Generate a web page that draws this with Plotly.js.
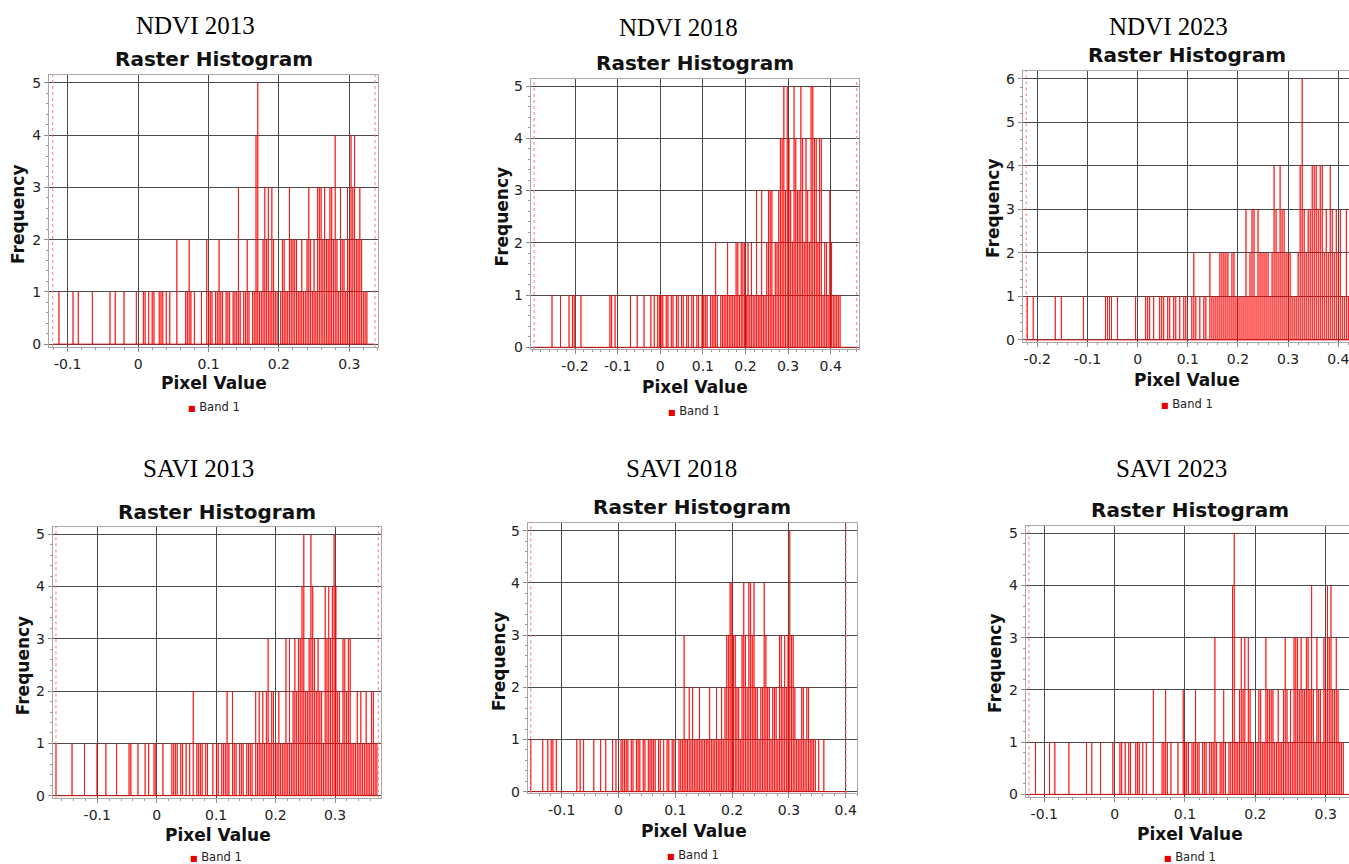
<!DOCTYPE html>
<html><head><meta charset="utf-8">
<script src="https://cdn.plot.ly/plotly-3.0.1.min.js"></script>
<style>html,body{margin:0;padding:0;background:#fff}#chart{width:1349px;height:864px}</style>
</head><body><div id="chart"></div>
<script>
// ---------- DATA ----------
const panelTitles = ['NDVI 2013', 'NDVI 2018', 'NDVI 2023', 'SAVI 2013', 'SAVI 2018', 'SAVI 2023'];
const chartTitle = 'Raster Histogram';
const xTitle = 'Pixel Value';
const yTitle = 'Frequency';
const seriesName = 'Band 1';

// NDVI 2013
const ndvi2013BinStart = -0.1225, ndvi2013BinWidth = 0.0025;
const ndvi2013MinMax = [-0.1213, 0.3365];
const ndvi2013Counts = [
 0,0,0,0,1,0,0,0,0,0, 0,0,1,0,0,1,0,0,0,0, 0,0,0,1,0,0,0,0,0,0, 0,0,0,1,0,0,1,0,0,0,
 0,1,0,0,0,0,0,0,1,0, 0,0,1,1,0,1,0,1,1,0, 0,1,1,1,0,1,0,1,0,0, 0,2,0,0,0,0,1,1,2,1,
 0,1,0,0,0,1,0,0,2,1, 1,1,0,1,1,2,1,1,0,1, 1,1,0,1,1,1,3,1,0,1, 1,2,1,0,1,1,4,5,1,1,
 2,3,2,3,1,3,2,1,1,0, 1,2,2,1,1,3,2,2,2,2, 1,1,2,1,1,2,3,2,1,2, 1,3,3,3,2,3,2,2,3,3,
 2,4,2,1,3,2,2,1,3,2, 4,3,4,2,2,3,2,1,1,1, 0,0,0,0];
const ndvi2013XTicks = [-0.1, 0, 0.1, 0.2, 0.3];
const ndvi2013XLabels = ['-0.1', '0', '0.1', '0.2', '0.3'];

// NDVI 2018
const ndvi2018BinStart = -0.298, ndvi2018BinWidth = 0.004;
const ndvi2018MinMax = [-0.296, 0.461];
const ndvi2018Counts = [
 0,0,0,0,0,0,0,0,0,0, 0,1,0,0,0,0,1,0,0,0, 0,1,0,1,1,0,0,0,1,0, 0,0,0,0,0,0,0,0,0,0,
 0,0,0,0,0,1,1,0,1,0, 0,0,0,0,0,0,0,1,0,0, 0,1,0,0,0,1,0,0,0,1, 0,1,0,1,1,1,1,0,1,1,
 0,1,1,0,1,1,0,1,1,0, 1,1,0,1,1,0,1,1,0,1, 1,1,1,0,1,1,1,2,1,0, 1,1,1,1,2,1,1,1,1,2,
 2,1,2,2,2,1,2,1,2,1, 1,3,1,1,3,1,1,2,3,3, 3,1,2,2,3,4,4,5,3,5, 4,3,2,5,4,3,3,5,4,2,
 4,3,2,5,5,4,4,2,4,4, 1,2,2,1,3,2,1,1,1,1, 1,0,0,0,0,0,0,0,0,0];
const ndvi2018XTicks = [-0.2, -0.1, 0, 0.1, 0.2, 0.3, 0.4];
const ndvi2018XLabels = ['-0.2', '-0.1', '0', '0.1', '0.2', '0.3', '0.4'];

// NDVI 2023
const ndvi2023BinStart = -0.224, ndvi2023BinWidth = 0.004;
const ndvi2023MinMax = [-0.222, 0.43];
const ndvi2023Counts = [
 0,1,0,0,1,0,0,0,0,0, 0,0,0,0,0,1,0,0,1,0, 0,0,0,0,0,0,0,0,0,1, 0,0,0,0,0,0,0,0,0,0,
 1,1,1,1,0,0,1,0,0,0, 0,0,0,0,0,1,0,0,0,0, 1,1,1,0,1,0,0,1,1,1, 0,1,1,0,1,1,0,1,0,1,
 1,0,0,1,2,1,0,1,0,1, 1,0,2,1,1,1,1,2,2,2, 2,2,1,2,2,1,1,1,1,1, 3,1,2,3,3,1,3,2,2,2,
 2,2,1,2,4,3,2,4,3,3, 2,2,2,1,1,1,2,4,6,3, 2,3,3,4,4,4,3,4,4,2, 3,2,4,3,2,3,2,3,1,1,
 3,1];
const ndvi2023XTicks = [-0.2, -0.1, 0, 0.1, 0.2, 0.3, 0.4];
const ndvi2023XLabels = ['-0.2', '-0.1', '0', '0.1', '0.2', '0.3', '0.4'];

// SAVI 2013
const savi2013BinStart = -0.1695, savi2013BinWidth = 0.003;
const savi2013MinMax = [-0.1695, 0.3729];
const savi2013Counts = [
 1,0,0,0,0,0,0,0,0,1, 0,0,0,0,0,0,1,0,0,0, 0,0,0,1,0,0,0,0,1,0, 0,0,0,0,1,0,0,0,0,0,
 0,1,1,0,0,0,1,0,0,0, 1,0,1,0,0,1,1,0,0,0, 1,0,0,0,0,1,1,1,1,0, 1,1,0,1,0,1,0,2,0,1,
 1,1,1,0,1,1,0,0,1,0, 1,1,0,1,1,1,2,1,0,2, 1,1,0,1,1,1,0,1,1,1, 1,0,2,1,2,1,2,1,2,3,
 1,2,2,1,1,2,1,1,1,3, 1,3,1,2,3,2,3,3,4,5, 2,2,3,5,4,3,2,3,2,2, 1,4,3,4,3,4,5,4,2,2,
 1,3,3,2,3,3,1,1,1,2, 1,2,1,1,2,1,1,2,2,1, 1];
const savi2013XTicks = [-0.1, 0, 0.1, 0.2, 0.3];
const savi2013XLabels = ['-0.1', '0', '0.1', '0.2', '0.3'];

// SAVI 2018
const savi2018BinStart = -0.1545, savi2018BinWidth = 0.003;
const savi2018MinMax = [-0.1545, 0.4006];
const savi2018Counts = [
 1,0,0,0,0,0,0,1,0,0, 1,0,1,1,0,1,0,0,0,0, 0,0,0,0,0,0,0,1,0,1, 0,1,0,0,0,0,0,1,0,0,
 0,1,0,0,1,0,0,0,1,0, 1,0,0,1,1,1,1,1,0,1, 1,0,1,1,1,0,1,1,0,1, 1,1,1,1,0,1,1,0,1,0,
 1,1,0,1,1,0,0,1,1,1, 3,1,1,2,1,2,1,1,1,2, 1,1,1,1,1,2,1,1,1,2, 1,1,2,1,2,3,3,4,4,3,
 3,2,2,1,3,4,3,2,4,4, 3,4,2,2,1,2,2,4,3,2, 2,1,2,2,2,1,3,3,2,3, 2,3,5,3,3,2,1,1,1,2,
 2,1,2,2,1,1,1,1,0,1, 0,0,1,0,0,0,0,0,0,0, 0,0,0,0,0,0];
const savi2018XTicks = [-0.1, 0, 0.1, 0.2, 0.3, 0.4];
const savi2018XLabels = ['-0.1', '0', '0.1', '0.2', '0.3', '0.4'];

// SAVI 2023
const savi2023BinStart = -0.1225, savi2023BinWidth = 0.0025;
const savi2023MinMax = [-0.1218, 0.3365];
const savi2023Counts = [
 0,0,0,0,1,0,0,0,0,0, 0,0,1,0,0,1,0,0,0,0, 0,0,0,1,0,0,0,0,0,0, 0,0,0,1,0,0,1,0,0,0,
 0,1,0,0,0,0,0,0,1,0, 0,0,1,1,0,1,0,1,1,0, 0,1,1,1,0,1,0,1,0,0, 0,2,0,0,0,0,1,1,2,1,
 0,1,0,0,0,1,0,0,2,1, 1,1,0,1,1,2,1,1,0,1, 1,1,0,1,1,1,3,1,0,1, 1,2,1,0,1,1,4,5,1,1,
 2,3,2,3,1,3,2,1,1,0, 1,2,2,1,1,3,2,2,2,2, 1,1,2,1,1,2,3,2,1,2, 1,3,3,3,2,3,2,2,3,3,
 2,4,2,1,3,2,2,1,3,2, 4,3,4,2,2,3,2,1,1,1, 0,0,0,0];
const savi2023XTicks = [-0.1, 0, 0.1, 0.2, 0.3];
const savi2023XLabels = ['-0.1', '0', '0.1', '0.2', '0.3'];

// ---------- LAYOUT (pixel boxes measured on the reference) ----------
const W = 1349, H = 864;
const panels = [
 {counts: ndvi2013Counts, start: ndvi2013BinStart, width: ndvi2013BinWidth, minmax: ndvi2013MinMax, ticks: ndvi2013XTicks, labels: ndvi2013XLabels},
 {counts: ndvi2018Counts, start: ndvi2018BinStart, width: ndvi2018BinWidth, minmax: ndvi2018MinMax, ticks: ndvi2018XTicks, labels: ndvi2018XLabels},
 {counts: ndvi2023Counts, start: ndvi2023BinStart, width: ndvi2023BinWidth, minmax: ndvi2023MinMax, ticks: ndvi2023XTicks, labels: ndvi2023XLabels},
 {counts: savi2013Counts, start: savi2013BinStart, width: savi2013BinWidth, minmax: savi2013MinMax, ticks: savi2013XTicks, labels: savi2013XLabels},
 {counts: savi2018Counts, start: savi2018BinStart, width: savi2018BinWidth, minmax: savi2018MinMax, ticks: savi2018XTicks, labels: savi2018XLabels},
 {counts: savi2023Counts, start: savi2023BinStart, width: savi2023BinWidth, minmax: savi2023MinMax, ticks: savi2023XTicks, labels: savi2023XLabels}
];
const boxes = [
 {l:49,    r:378,   t:75,    b:347,   xr:[-0.1266,0.3408], yr:[-0.057,5.153], head:[195.5,26],   rh:[213.5,59],   leg:[214,407],    xt:[213.5,383],  yt:[18,214]},
 {l:530.7, r:859,   t:79,    b:349,   xr:[-0.304,0.4664],  yr:[-0.033,5.134], head:[678.5,27],   rh:[695,63],     leg:[694,410.7],  xt:[695,387],    yt:[501.7,216.7]},
 {l:1022.7,r:1349,  t:70.7,  b:342.3, xr:[-0.229,0.4213],  yr:[-0.053,6.184], head:[1168.3,26.7],rh:[1187,55],    leg:[1186.5,404], xt:[1187,380],   yt:[993,208]},
 {l:52.7,  r:381,   t:526.7, b:798.3, xr:[-0.175,0.3774],  yr:[-0.05,5.145],  head:[198.3,468.3],rh:[217,511.7],  leg:[215.5,856.5],xt:[217.7,835],  yt:[23.3,665]},
 {l:527.7, r:857.3, t:522.7, b:793.3, xr:[-0.1599,0.4204], yr:[-0.031,5.153], head:[681,468.3],  rh:[692.3,507.3],leg:[693,855.2],  xt:[693.8,830.7],yt:[498.3,660.8]},
 {l:1025.7,r:1349,  t:525.7, b:797.3, xr:[-0.1264,0.3331], yr:[-0.057,5.146], head:[1171,468.3], rh:[1190,510],   leg:[1190,856.5], xt:[1190,834],   yt:[995,663]}
];

const px = v => v / W, py = v => 1 - v / H;
const data = [], shapes = [], annotations = [];
const layout = {
  width: W, height: H, margin: {l:0, r:0, t:0, b:0},
  paper_bgcolor: '#ffffff', plot_bgcolor: '#ffffff', showlegend: false,
  font: {family: 'DejaVu Sans', color: '#222'}
};

panels.forEach((p, i) => {
  const s = i === 0 ? '' : String(i + 1);
  const b = boxes[i];
  // spike path built from the bin counts
  const xs = [p.minmax[0]], ys = [0];
  p.counts.forEach((c, k) => {
    if (c > 0) { const x = p.start + k * p.width; xs.push(x, x, x); ys.push(0, c, 0); }
  });
  xs.push(p.minmax[1]); ys.push(0);
  data.push({type:'scatter', mode:'lines', x: xs, y: ys, xaxis:'x' + s, yaxis:'y' + s,
    line:{color:'rgba(255,0,0,0.72)', width:1}, hoverinfo:'skip', showlegend:false, name: seriesName});

  layout['xaxis' + s] = {
    domain:[px(b.l), px(b.r)], range: b.xr, anchor:'y' + s,
    tickmode:'array', tickvals: p.ticks, ticktext: p.labels, ticklabeloverflow:'allow',
    showgrid:true, gridcolor:'#4a4a4a', gridwidth:1, zeroline:false,
    showline:true, mirror:true, linecolor:'#a8a8a8', linewidth:1,
    ticks:'outside', ticklen:4, tickcolor:'#8a8a8a',
    tickfont:{family:'DejaVu Sans', size:14, color:'#222'},
    minor:{tickmode:'linear', tick0:0, dtick:0.02, ticks:'outside', ticklen:2, tickcolor:'#9a9a9a', showgrid:false},
    fixedrange:true
  };
  layout['yaxis' + s] = {
    domain:[py(b.b), py(b.t)], range: b.yr, anchor:'x' + s,
    tickmode:'linear', tick0:0, dtick:1,
    showgrid:true, gridcolor:'#4a4a4a', gridwidth:1, zeroline:false,
    showline:true, mirror:true, linecolor:'#a8a8a8', linewidth:1,
    ticks:'outside', ticklen:4, tickcolor:'#8a8a8a',
    tickfont:{family:'DejaVu Sans', size:14, color:'#222'},
    minor:{tickmode:'linear', tick0:0, dtick:0.2, ticks:'outside', ticklen:2, tickcolor:'#9a9a9a', showgrid:false},
    fixedrange:true
  };
  p.minmax.forEach(v => shapes.push({type:'line', xref:'x' + s, yref:'y' + s + ' domain', x0:v, x1:v, y0:0, y1:1,
    line:{color:'#ff7a7a', width:1, dash:'dot'}}));

  annotations.push({xref:'paper', yref:'paper', x:px(b.head[0]), y:py(b.head[1]), xanchor:'center', yanchor:'middle',
    text: panelTitles[i], showarrow:false, font:{family:'Liberation Serif', size:25, color:'#000'}});
  annotations.push({xref:'paper', yref:'paper', x:px(b.rh[0]), y:py(b.rh[1]), xanchor:'center', yanchor:'middle',
    text: chartTitle, showarrow:false, font:{family:'DejaVu Sans', size:20, weight:'bold', color:'#111'}});
  annotations.push({xref:'paper', yref:'paper', x:px(b.xt[0]), y:py(b.xt[1]), xanchor:'center', yanchor:'middle',
    text: xTitle, showarrow:false, font:{family:'DejaVu Sans', size:17, weight:'bold', color:'#111'}});
  annotations.push({xref:'paper', yref:'paper', x:px(b.yt[0]), y:py(b.yt[1]), xanchor:'center', yanchor:'middle',
    text: yTitle, textangle:-90, showarrow:false, font:{family:'DejaVu Sans', size:17, weight:'bold', color:'#111'}});
  annotations.push({xref:'paper', yref:'paper', x:px(b.leg[0]), y:py(b.leg[1]), xanchor:'center', yanchor:'middle',
    text: '<span style="color:#e60000;font-size:8px">■</span> ' + seriesName, showarrow:false,
    font:{family:'DejaVu Sans', size:11.5, color:'#222'}});
});
layout.shapes = shapes;
layout.annotations = annotations;

Plotly.newPlot('chart', data, layout, {staticPlot:true, displayModeBar:false});
</script>
</body></html>
